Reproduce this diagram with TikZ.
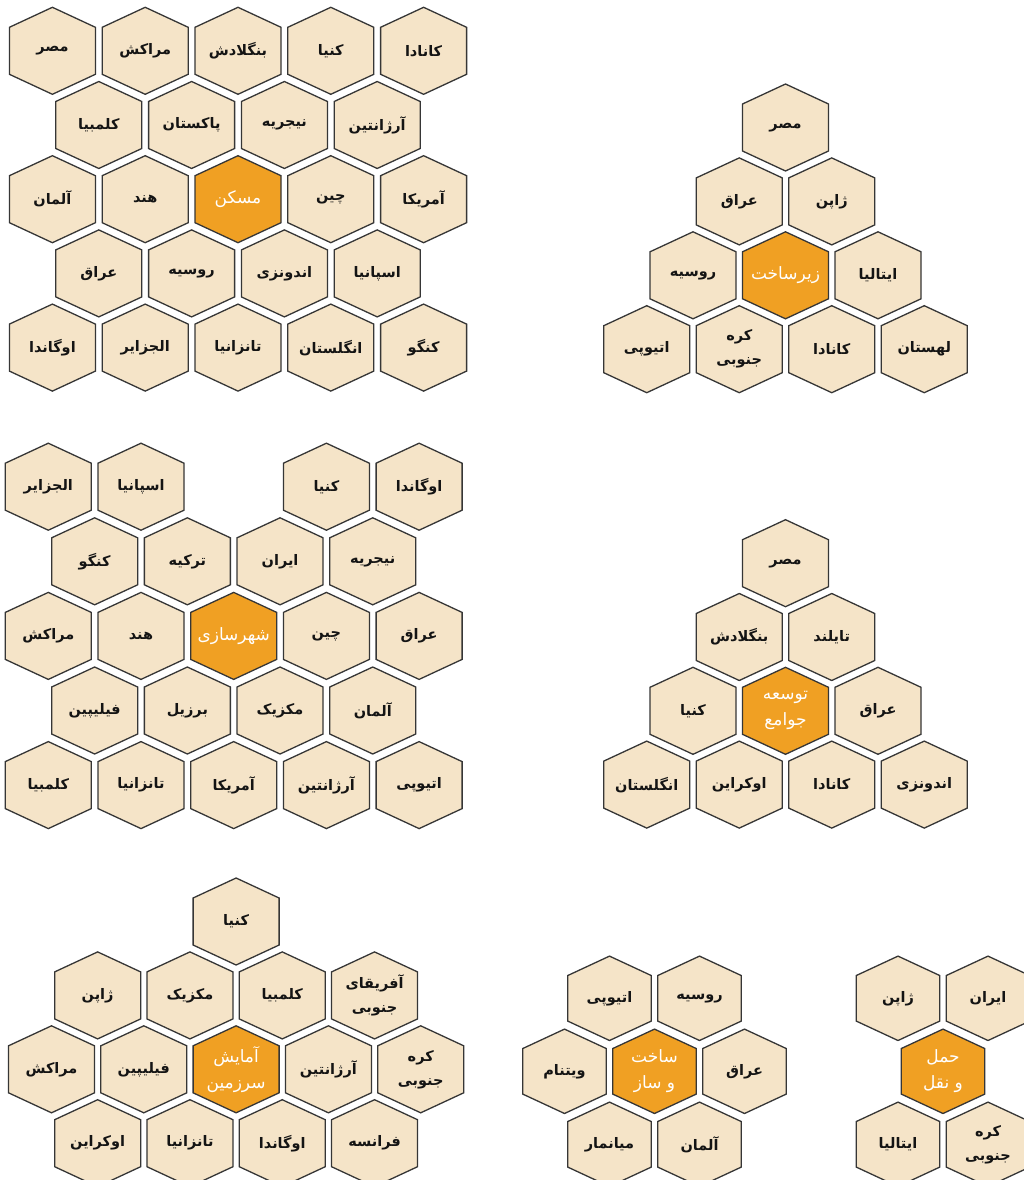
\documentclass[tikz,border=0pt]{standalone}
\usepackage{fontspec}
\TeXXeTstate=1
\newfontfamily\arabicfont[Script=Arabic]{DejaVu Sans}
\newcommand\fa[1]{\beginR #1\endR}
\definecolor{hexfill}{HTML}{F5E4C8}
\definecolor{hexorange}{HTML}{F0A023}
\definecolor{hexedge}{HTML}{363636}
\tikzset{
  cellshape/.style={fill=hexfill, draw=hexedge, line width=1.3pt, line join=miter},
  centershape/.style={fill=hexorange, draw=hexedge, line width=1.3pt, line join=miter},
  celltext/.style={font=\arabicfont\bfseries\fontsize{14.5}{24}\selectfont, text=black!92, align=center, inner sep=0pt},
  centertext/.style={font=\arabicfont\fontsize{17}{26}\selectfont, text=white, align=center, inner sep=0pt},
}
% #1 name, #2 x, #3 y, #4 scale, #5 kind (cell/center), #6 text
\newcommand\hexcell[6]{%
  \path[#5shape, shift={(#2,#3)}, scale=#4]
    (0,-43.5) -- (43,-23.5) -- (43,23.5) -- (0,43.5) -- (-43,23.5) -- (-43,-23.5) -- cycle;
  \node[#5text] (#1) at (#2,#3) {#6};
}
\begin{document}
\begin{tikzpicture}[x=1pt,y=-1pt]
\fill[white] (0,0) rectangle (1024,1180);
\useasboundingbox (0,0) rectangle (1024,1180);
\clip (0,0) rectangle (1024,1180);

% ---------- Cluster 1: maskan ----------
\hexcell{a11}{52.4}{50.8}{1}{cell}{\fa{مصر}}
\hexcell{a12}{145.2}{50.8}{1}{cell}{\fa{مراکش}}
\hexcell{a13}{238.0}{50.8}{1}{cell}{\fa{بنگلادش}}
\hexcell{a14}{330.8}{50.8}{1}{cell}{\fa{کنیا}}
\hexcell{a15}{423.6}{50.8}{1}{cell}{\fa{کانادا}}
\hexcell{a21}{98.8}{125.0}{1}{cell}{\fa{کلمبیا}}
\hexcell{a22}{191.6}{125.0}{1}{cell}{\fa{پاکستان}}
\hexcell{a23}{284.4}{125.0}{1}{cell}{\fa{نیجریه}}
\hexcell{a24}{377.2}{125.0}{1}{cell}{\fa{آرژانتین}}
\hexcell{a31}{52.4}{199.2}{1}{cell}{\fa{آلمان}}
\hexcell{a32}{145.2}{199.2}{1}{cell}{\fa{هند}}
\hexcell{a33}{238.0}{199.2}{1}{center}{\fa{مسکن}}
\hexcell{a34}{330.8}{199.2}{1}{cell}{\fa{چین}}
\hexcell{a35}{423.6}{199.2}{1}{cell}{\fa{آمریکا}}
\hexcell{a41}{98.8}{273.4}{1}{cell}{\fa{عراق}}
\hexcell{a42}{191.6}{273.4}{1}{cell}{\fa{روسیه}}
\hexcell{a43}{284.4}{273.4}{1}{cell}{\fa{اندونزی}}
\hexcell{a44}{377.2}{273.4}{1}{cell}{\fa{اسپانیا}}
\hexcell{a51}{52.4}{347.6}{1}{cell}{\fa{اوگاندا}}
\hexcell{a52}{145.2}{347.6}{1}{cell}{\fa{الجزایر}}
\hexcell{a53}{238.0}{347.6}{1}{cell}{\fa{تانزانیا}}
\hexcell{a54}{330.8}{347.6}{1}{cell}{\fa{انگلستان}}
\hexcell{a55}{423.6}{347.6}{1}{cell}{\fa{کنگو}}

% ---------- Cluster 2: zirsakht ----------
\hexcell{b11}{785.5}{127.5}{1}{cell}{\fa{مصر}}
\hexcell{b21}{739.25}{201.4}{1}{cell}{\fa{عراق}}
\hexcell{b22}{831.75}{201.4}{1}{cell}{\fa{ژاپن}}
\hexcell{b31}{693.0}{275.3}{1}{cell}{\fa{روسیه}}
\hexcell{b32}{785.5}{275.3}{1}{center}{\fa{زیرساخت}}
\hexcell{b33}{878.0}{275.3}{1}{cell}{\fa{ایتالیا}}
\hexcell{b41}{646.75}{349.2}{1}{cell}{\fa{اتیوپی}}
\hexcell{b42}{739.25}{349.2}{1}{cell}{\fa{کره}\\\fa{جنوبی}}
\hexcell{b43}{831.75}{349.2}{1}{cell}{\fa{کانادا}}
\hexcell{b44}{924.25}{349.2}{1}{cell}{\fa{لهستان}}

% ---------- Cluster 3: shahrsazi ----------
\hexcell{c11}{48.3}{486.7}{1}{cell}{\fa{الجزایر}}
\hexcell{c12}{141.0}{486.7}{1}{cell}{\fa{اسپانیا}}
\hexcell{c14}{326.4}{486.7}{1}{cell}{\fa{کنیا}}
\hexcell{c15}{419.1}{486.7}{1}{cell}{\fa{اوگاندا}}
\hexcell{c21}{94.65}{561.3}{1}{cell}{\fa{کنگو}}
\hexcell{c22}{187.35}{561.3}{1}{cell}{\fa{ترکیه}}
\hexcell{c23}{280.05}{561.3}{1}{cell}{\fa{ایران}}
\hexcell{c24}{372.75}{561.3}{1}{cell}{\fa{نیجریه}}
\hexcell{c31}{48.3}{635.9}{1}{cell}{\fa{مراکش}}
\hexcell{c32}{141.0}{635.9}{1}{cell}{\fa{هند}}
\hexcell{c33}{233.7}{635.9}{1}{center}{\fa{شهرسازی}}
\hexcell{c34}{326.4}{635.9}{1}{cell}{\fa{چین}}
\hexcell{c35}{419.1}{635.9}{1}{cell}{\fa{عراق}}
\hexcell{c41}{94.65}{710.5}{1}{cell}{\fa{فیلیپین}}
\hexcell{c42}{187.35}{710.5}{1}{cell}{\fa{برزیل}}
\hexcell{c43}{280.05}{710.5}{1}{cell}{\fa{مکزیک}}
\hexcell{c44}{372.75}{710.5}{1}{cell}{\fa{آلمان}}
\hexcell{c51}{48.3}{785.1}{1}{cell}{\fa{کلمبیا}}
\hexcell{c52}{141.0}{785.1}{1}{cell}{\fa{تانزانیا}}
\hexcell{c53}{233.7}{785.1}{1}{cell}{\fa{آمریکا}}
\hexcell{c54}{326.4}{785.1}{1}{cell}{\fa{آرژانتین}}
\hexcell{c55}{419.1}{785.1}{1}{cell}{\fa{اتیوپی}}

% ---------- Cluster 4: tose-e javame ----------
\hexcell{d11}{785.5}{563.2}{1}{cell}{\fa{مصر}}
\hexcell{d21}{739.25}{637.0}{1}{cell}{\fa{بنگلادش}}
\hexcell{d22}{831.75}{637.0}{1}{cell}{\fa{تایلند}}
\hexcell{d31}{693.0}{710.8}{1}{cell}{\fa{کنیا}}
\hexcell{d32}{785.5}{710.8}{1}{center}{\fa{توسعه}\\\fa{جوامع}}
\hexcell{d33}{878.0}{710.8}{1}{cell}{\fa{عراق}}
\hexcell{d41}{646.75}{784.6}{1}{cell}{\fa{انگلستان}}
\hexcell{d42}{739.25}{784.6}{1}{cell}{\fa{اوکراین}}
\hexcell{d43}{831.75}{784.6}{1}{cell}{\fa{کانادا}}
\hexcell{d44}{924.25}{784.6}{1}{cell}{\fa{اندونزی}}

% ---------- Cluster 5: amayesh sarzamin ----------
\hexcell{e11}{236.1}{921.5}{1}{cell}{\fa{کنیا}}
\hexcell{e21}{97.65}{995.4}{1}{cell}{\fa{ژاپن}}
\hexcell{e22}{189.95}{995.4}{1}{cell}{\fa{مکزیک}}
\hexcell{e23}{282.25}{995.4}{1}{cell}{\fa{کلمبیا}}
\hexcell{e24}{374.55}{995.4}{1}{cell}{\fa{آفریقای}\\\fa{جنوبی}}
\hexcell{e31}{51.5}{1069.3}{1}{cell}{\fa{مراکش}}
\hexcell{e32}{143.8}{1069.3}{1}{cell}{\fa{فیلیپین}}
\hexcell{e33}{236.1}{1069.3}{1}{center}{\fa{آمایش}\\\fa{سرزمین}}
\hexcell{e34}{328.4}{1069.3}{1}{cell}{\fa{آرژانتین}}
\hexcell{e35}{420.7}{1069.3}{1}{cell}{\fa{کره}\\\fa{جنوبی}}
\hexcell{e41}{97.65}{1143.2}{1}{cell}{\fa{اوکراین}}
\hexcell{e42}{189.95}{1143.2}{1}{cell}{\fa{تانزانیا}}
\hexcell{e43}{282.25}{1143.2}{1}{cell}{\fa{اوگاندا}}
\hexcell{e44}{374.55}{1143.2}{1}{cell}{\fa{فرانسه}}

% ---------- Cluster 6: sakht o saz ----------
\hexcell{f11}{609.5}{998.3}{0.97}{cell}{\fa{اتیوپی}}
\hexcell{f12}{699.5}{998.3}{0.97}{cell}{\fa{روسیه}}
\hexcell{f21}{564.5}{1071.3}{0.97}{cell}{\fa{ویتنام}}
\hexcell{f22}{654.5}{1071.3}{0.97}{center}{\fa{ساخت}\\\fa{و ساز}}
\hexcell{f23}{744.5}{1071.3}{0.97}{cell}{\fa{عراق}}
\hexcell{f31}{609.5}{1144.3}{0.97}{cell}{\fa{میانمار}}
\hexcell{f32}{699.5}{1144.3}{0.97}{cell}{\fa{آلمان}}

% ---------- Cluster 7: haml o naghl ----------
\hexcell{g11}{898.0}{998.3}{0.97}{cell}{\fa{ژاپن}}
\hexcell{g12}{988.0}{998.3}{0.97}{cell}{\fa{ایران}}
\hexcell{g21}{943.0}{1071.3}{0.97}{center}{\fa{حمل}\\\fa{و نقل}}
\hexcell{g31}{898.0}{1144.3}{0.97}{cell}{\fa{ایتالیا}}
\hexcell{g32}{988.0}{1144.3}{0.97}{cell}{\fa{کره}\\\fa{جنوبی}}
\end{tikzpicture}
\end{document}
